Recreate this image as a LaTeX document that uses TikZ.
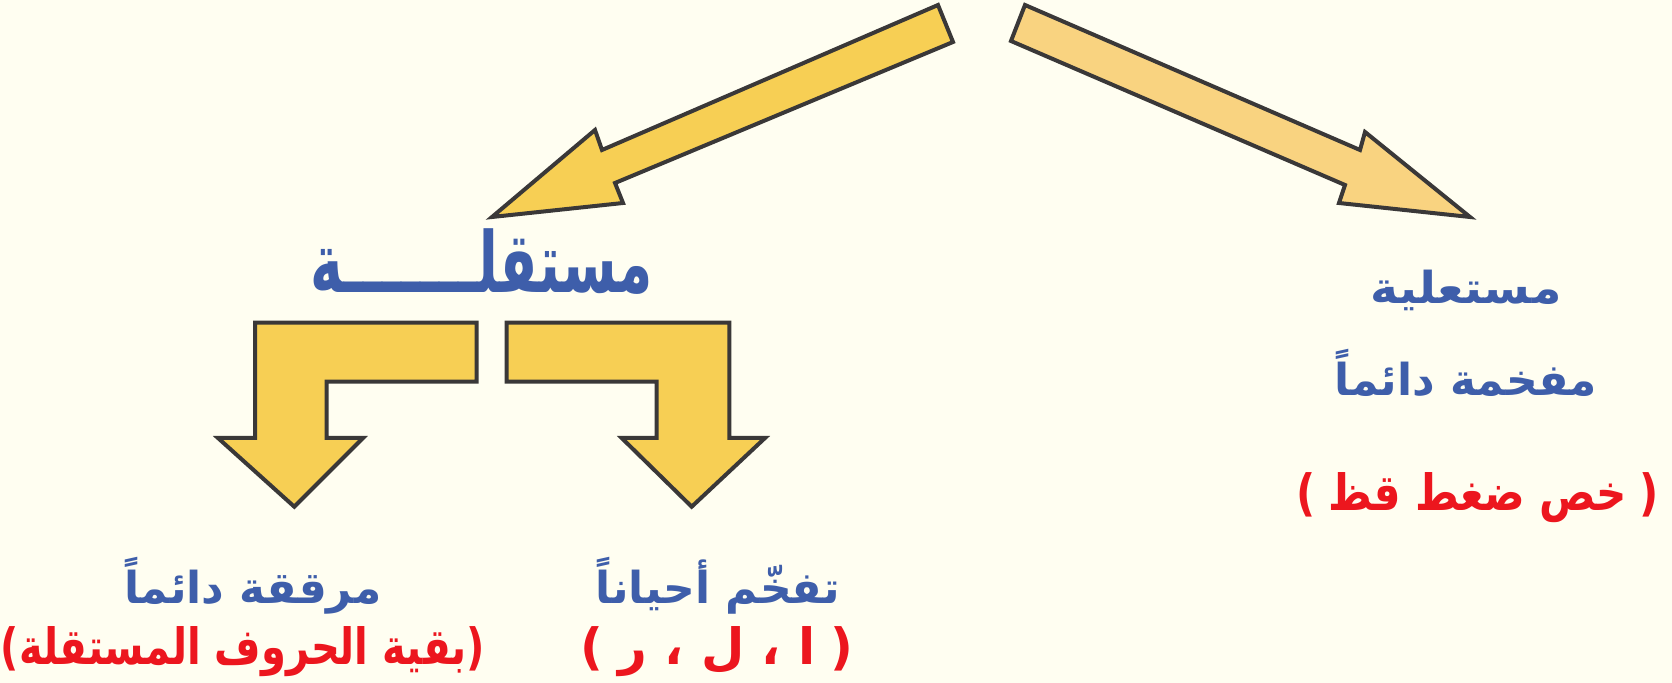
\documentclass[tikz,border=0pt]{standalone}
\usepackage{fontspec}
\TeXXeTstate=1
\newfontfamily\arabicfont[Script=Arabic]{DejaVu Sans}
\newfontfamily\parenfont{DejaVu Sans}
\definecolor{bgcream}{RGB}{255,254,241}
\definecolor{arrowdark}{RGB}{58,56,56}
\definecolor{fillgold}{RGB}{247,207,84}
\definecolor{fillpeach}{RGB}{249,211,128}
\definecolor{textblue}{RGB}{62,94,170}
\definecolor{textred}{RGB}{236,22,30}
\newcommand{\lp}{{\parenfont\bfseries(}}
\newcommand{\rp}{{\parenfont\bfseries)}}
\tikzset{
  blockarrow/.style={draw=arrowdark, line width=2pt, line join=miter},
  bluelabel/.style={text=textblue, font=\arabicfont\bfseries\fontsize{22}{26}\selectfont, inner sep=0pt},
  redlabel/.style={text=textred, font=\arabicfont\bfseries\fontsize{25}{30}\selectfont, inner sep=0pt},
  titlelabel/.style={text=textblue, font=\arabicfont\bfseries\fontsize{42}{48}\selectfont, inner sep=0pt}
}
\begin{document}
\begin{tikzpicture}[x=0.5pt,y=-0.5pt]
\fill[bgcream] (0,0) rectangle (1672,683);
\useasboundingbox (0,0) rectangle (1672,683);

% diagonal arrows
\draw[blockarrow, fill=fillgold] (938,5) -- (602,150) -- (595,130) -- (492,217) -- (623,203) -- (615,183) -- (953,42) -- cycle;
\draw[blockarrow, fill=fillpeach] (1025,5) -- (1360,150) -- (1365,132) -- (1470,217) -- (1339,203) -- (1345,185) -- (1011,41) -- cycle;

% bent arrows
\draw[blockarrow, fill=fillgold] (476.7,322.7) -- (255,322.7) -- (255,438) -- (218,438) -- (294.3,506.7) -- (363,438) -- (326.7,438) -- (326.7,381.7) -- (476.7,381.7) -- cycle;
\draw[blockarrow, fill=fillgold] (506.7,322.7) -- (729.3,322.7) -- (729.3,438) -- (765,438) -- (691.7,506.7) -- (621.7,438) -- (656.7,438) -- (656.7,381.7) -- (506.7,381.7) -- cycle;

% texts
\node[titlelabel] (mustaqila) at (482,262) {\scalebox{0.66}[1]{\beginR مستقلـــــــة\endR}};
\node[bluelabel] (mustaliya) at (1466,290) {\scalebox{1.08}[1]{\beginR مستعلية\endR}};
\node[bluelabel] (mufakhama) at (1466,373) {\beginR مفخمة دائماً\endR};
\node[redlabel] (khus) at (1478,498) {\scalebox{0.84}[1]{\lp\hspace{0.3em}\beginR خص ضغط قظ\endR\hspace{0.3em}\rp}};
\node[bluelabel] (tufakham) at (718,586) {\beginR تفخّم أحياناً\endR};
\node[redlabel] (alr) at (717,652) {\lp\hspace{0.3em}\beginR ا ، ل ، ر\endR\hspace{0.3em}\rp};
\node[bluelabel] (muraqqaqa) at (253,586) {\beginR مرققة دائماً\endR};
\node[redlabel] (baqiya) at (243,652) {\scalebox{0.8}[1]{\lp\beginR بقية الحروف المستقلة\endR\rp}};
\end{tikzpicture}
\end{document}
